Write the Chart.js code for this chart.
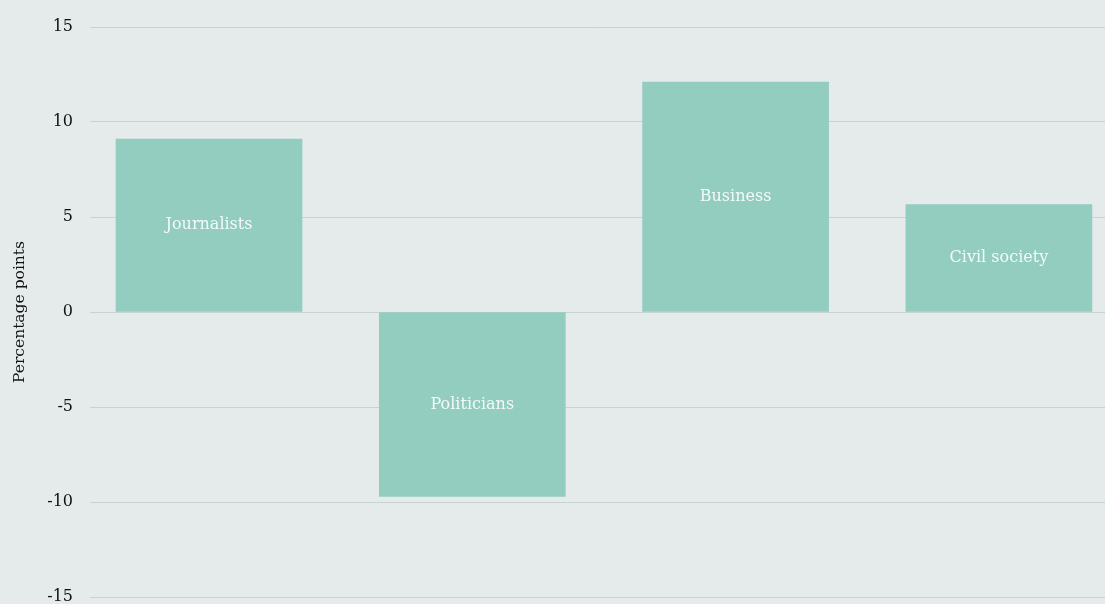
<!DOCTYPE html>
<html><head><meta charset="utf-8">
<script src="https://cdn.jsdelivr.net/npm/chart.js@4/dist/chart.umd.min.js"></script>
<style>html,body{margin:0;padding:0;background:#e5ebea;overflow:hidden;}#wrap{width:1105px;height:604px;}canvas{display:block;}</style>
</head><body><div id="wrap"><canvas id="c" width="1105" height="604"></canvas></div>
<script>
const categories = ["Journalists", "Politicians", "Business", "Civil society"];
const values = [9.1, -9.7, 12.1, 5.65];
const yTicks = [-15, -10, -5, 0, 5, 10, 15];
const yTitle = "Percentage points";

const FONT = "'DejaVu Serif', serif";
const barLabels = {
  id: 'barLabels',
  afterDatasetsDraw(chart) {
    const ctx = chart.ctx;
    const meta = chart.getDatasetMeta(0);
    ctx.save();
    ctx.font = "16px " + FONT;
    ctx.fillStyle = "#f5f9f8";
    ctx.textAlign = "center";
    ctx.textBaseline = "middle";
    meta.data.forEach((bar, i) => {
      const p = bar.getProps(['x','y','base'], true);
      ctx.fillText(categories[i], p.x, (p.y + p.base) / 2);
    });
    ctx.restore();
  }
};

new Chart(document.getElementById('c'), {
  type: 'bar',
  data: {
    datasets: [{
      data: values.map((v, i) => ({x: i, y: v})),
      backgroundColor: '#92cdbf',
      barThickness: 186,
      borderWidth: 0
    }]
  },
  plugins: [barLabels],
  options: {
    responsive: false,
    animation: false,
    layout: {padding: {top: 27, bottom: 7, right: 0, left: 0}},
    plugins: {legend: {display: false}, tooltip: {enabled: false}},
    scales: {
      x: {type: 'linear', min: -0.452, max: 3.403, offset: false, display: false},
      y: {
        min: -15, max: 15,
        afterBuildTicks(axis) { axis.ticks = yTicks.map(v => ({value: v})); },
        afterFit(axis) { axis.width = 90; axis.paddingTop = 0; axis.paddingBottom = 0; },
        ticks: {color: '#111', font: {family: FONT, size: 16}, padding: 17},
        grid: {color: '#c7d3d0', lineWidth: 1, drawTicks: false},
        border: {display: false},
        title: {display: true, text: yTitle, color: '#111', font: {family: FONT, size: 15.5}, padding: {top: 11, bottom: 0}}
      }
    }
  }
});
</script>
</body></html>
